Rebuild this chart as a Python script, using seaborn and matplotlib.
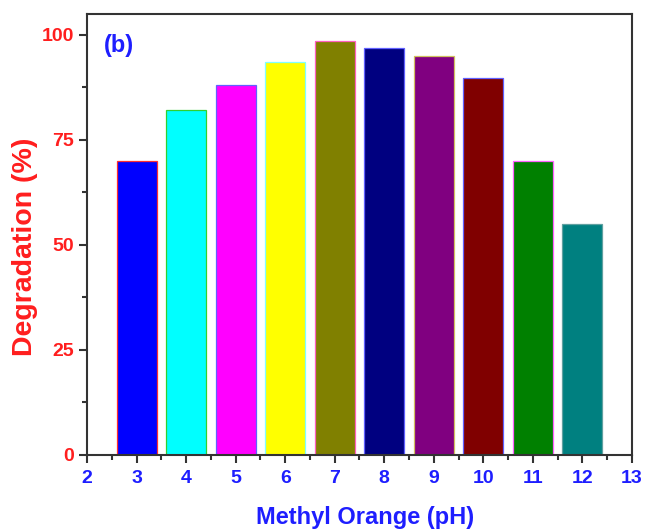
"""Degradation of methyl orange vs pH, bar chart."""

import numpy as np
import pandas as pd
import seaborn as sns
import matplotlib.pyplot as plt
from matplotlib.ticker import MultipleLocator

# data
ph = [3, 4, 5, 6, 7, 8, 9, 10, 11, 12]
degradation = [70.0, 82.0, 88.0, 93.6, 98.6, 96.9, 95.0, 89.8, 70.0, 55.0]
bar_colors = ["#0000FF", "#00FFFF", "#FF00FF", "#FFFF00", "#808000",
              "#000080", "#800080", "#800000", "#008000", "#008080"]
edge_colors = ["#FF3030", "#30D030", "#6060FF", "#80FFFF", "#FF60C0",
               "#6060FF", "#D0C060", "#6060FF", "#FF60FF", "#60A0A0"]

df = pd.DataFrame({"pH": ph, "Degradation": degradation})

sns.set_style("ticks")
plt.rcParams["font.family"] = ["Liberation Sans", "DejaVu Sans"]
plt.rcParams["font.weight"] = "bold"

fig = plt.figure(figsize=(6.46, 5.29), dpi=100)
ax = fig.add_axes([0.135, 0.14, 0.843, 0.834])

sns.barplot(data=df, x="pH", y="Degradation", hue="pH", palette=bar_colors,
            native_scale=True, width=0.8, legend=False, ax=ax,
            saturation=1, linewidth=0.9)
for patch, ec in zip(ax.patches, edge_colors):
    patch.set_edgecolor(ec)

ax.set_xlim(2, 13)
ax.set_ylim(0, 105)
ax.xaxis.set_major_locator(MultipleLocator(1))
ax.xaxis.set_minor_locator(MultipleLocator(0.5))
ax.yaxis.set_major_locator(MultipleLocator(25))
ax.yaxis.set_minor_locator(MultipleLocator(12.5))

for side in ["top", "right", "left", "bottom"]:
    ax.spines[side].set_visible(True)
    ax.spines[side].set_linewidth(1.5)
    ax.spines[side].set_color("#333333")

ax.tick_params(which="major", direction="out", length=6, width=1.5, color="#333333")
ax.tick_params(which="minor", direction="out", length=3.5, width=1.5, color="#333333")
ax.tick_params(axis="x", labelcolor="#1E1EFF", labelsize=14, pad=5)
ax.tick_params(axis="y", labelcolor="#FF1E1E", labelsize=14)
for lbl in ax.get_xticklabels() + ax.get_yticklabels():
    lbl.set_fontweight("bold")

ax.set_xlabel("Methyl Orange (pH)", color="#1E1EFF", fontsize=17, fontweight="bold")
ax.set_ylabel("Degradation (%)", color="#FF1E1E", fontsize=20.5, fontweight="bold")
ax.xaxis.set_label_coords(0.51, -0.142)
ax.yaxis.set_label_coords(-0.114, 0.472)
ax.yaxis.label.set_va("center")
ax.xaxis.label.set_va("center")
ax.text(0.03, 0.955, "(b)", transform=ax.transAxes, color="#1E1EFF",
        fontsize=17, fontweight="bold", va="top", ha="left")

fig.savefig("out.png", dpi=100)
